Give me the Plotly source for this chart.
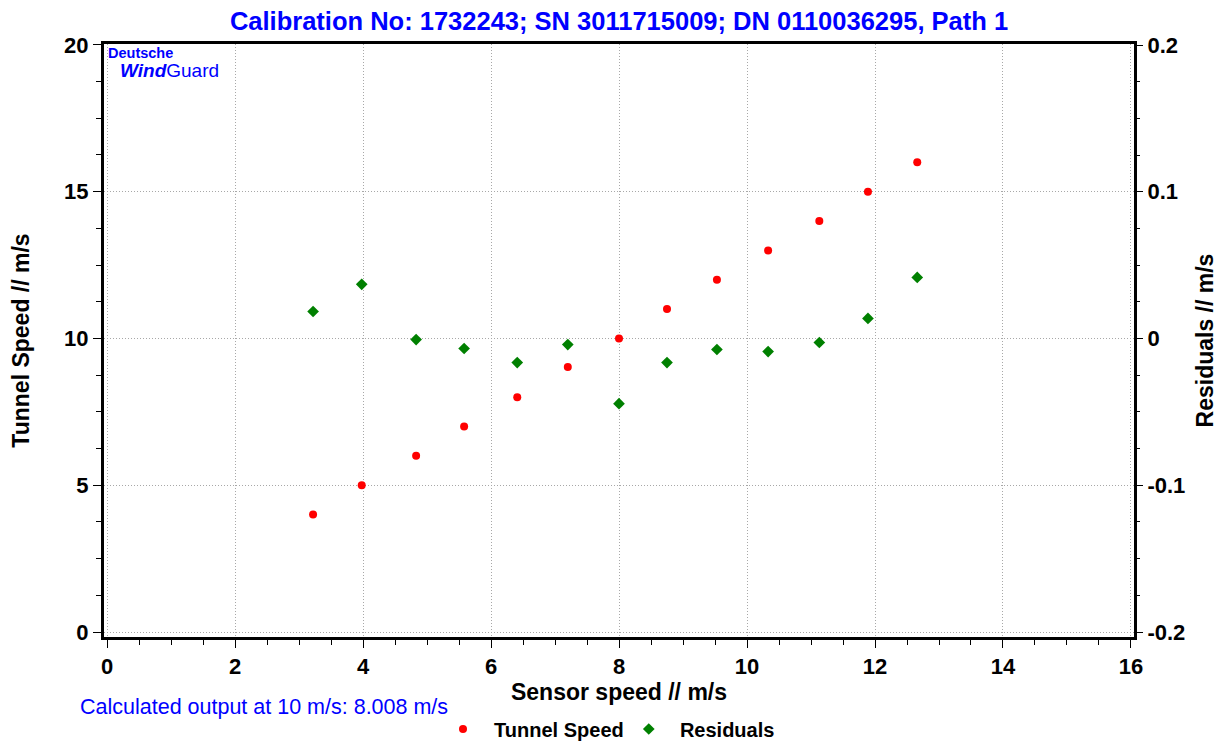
import plotly.graph_objects as go

sensor_speed = [3.22, 3.98, 4.83, 5.58, 6.41, 7.20, 8.00, 8.75, 9.53, 10.33, 11.13, 11.89, 12.66]
tunnel_speed = [4.0, 5.0, 6.0, 7.0, 8.0, 9.03, 10.0, 11.0, 12.0, 13.0, 14.0, 15.0, 16.0]
residuals = [0.0184, 0.0369, -0.0007, -0.0068, -0.0164, -0.0041, -0.0444, -0.0164, -0.0075, -0.0089, -0.0027, 0.0137, 0.0416]

res_tickvals = [-0.2, -0.1, 0.0, 0.1, 0.2]
res_ticktext = ["-0.2", "-0.1", "0", "0.1", "0.2"]

title_text = "Calibration No: 1732243; SN 3011715009; DN 0110036295, Path 1"
note_text = "Calculated output at 10 m/s: 8.008 m/s"

# page body has an 8px margin, so the figure is drawn 8px smaller and offset
W, H = 1217, 734
NB = "\u00a0\u00a0"

fig = go.Figure()
fig.add_trace(go.Scatter(x=sensor_speed, y=tunnel_speed, mode="markers", name=NB + "Tunnel Speed",
                         marker=dict(color="#ff0000", size=8, symbol="circle")))
fig.add_trace(go.Scatter(x=sensor_speed, y=residuals, mode="markers", name=NB + "Residuals", yaxis="y2",
                         marker=dict(color="#008000", size=9, symbol="diamond")))

FONT = "Liberation Sans, Arial"
tickfont = dict(family=FONT, size=22, color="black", weight="bold")
titlefont = dict(family=FONT, size=23, color="black", weight="bold")
grid = dict(showgrid=True, gridcolor="#a8a8a8", griddash="1px,2px", gridwidth=1)

fig.update_layout(
    width=W, height=H,
    paper_bgcolor="white", plot_bgcolor="white",
    margin=dict(l=96, r=91, t=36, b=105, autoexpand=False),
    title=dict(text=title_text, x=(96 + 1030 / 2) / W, xanchor="center", y=1 - 13 / H, yanchor="middle",
               font=dict(family=FONT, size=25.5, color="#0000ff", weight="bold")),
    xaxis=dict(range=[-0.047, 16.047], dtick=2, tick0=0, **grid, zeroline=False, showline=True,
               linecolor="black", linewidth=3, mirror=True, ticks="outside", ticklen=8,
               tickcolor="black", tickfont=tickfont, automargin=False,
               title=dict(text="Sensor speed // m/s", font=titlefont, standoff=0),
               minor=dict(dtick=0.5, ticks="outside", ticklen=5, tickcolor="black", showgrid=False)),
    yaxis=dict(range=[-0.17, 20.03], dtick=5, tick0=0, **grid, zeroline=False, showline=True,
               linecolor="black", linewidth=3, mirror=True, ticks="outside", ticklen=8,
               tickcolor="black", tickfont=tickfont, automargin=False,
               title=dict(text="Tunnel Speed // m/s", font=titlefont, standoff=30),
               minor=dict(dtick=1.25, ticks="outside", ticklen=5, tickcolor="black", showgrid=False)),
    yaxis2=dict(range=[-0.2034, 0.2007], tickvals=res_tickvals, ticktext=res_ticktext,
                overlaying="y", side="right", automargin=False,
                showgrid=False, zeroline=False, showline=False, ticks="outside", ticklen=8,
                tickcolor="black", tickfont=tickfont,
                title=dict(text="Residuals // m/s", font=titlefont, standoff=12),
                minor=dict(dtick=0.025, tick0=0, ticks="outside", ticklen=5, tickcolor="black", showgrid=False)),
    legend=dict(orientation="h", x=(435 - 96) / 1030, xanchor="left", y=(637 - 729) / 593, yanchor="middle",
                font=dict(family=FONT, size=20, color="black", weight="bold"),
                itemwidth=30, tracegroupgap=0, bgcolor="rgba(0,0,0,0)"),
    showlegend=True,
)

fig.add_annotation(text=note_text, xref="paper", yref="paper", x=(78 - 104) / 1030, y=(637 - 707) / 593,
                   xanchor="left", yanchor="middle", showarrow=False,
                   font=dict(family=FONT, size=21.5, color="#0000ff"))
fig.add_annotation(text="<b>Deutsche</b>", xref="paper", yref="paper", x=(106 - 104) / 1030, y=(637 - 53) / 593,
                   xanchor="left", yanchor="middle", showarrow=False,
                   font=dict(family=FONT, size=14.5, color="#0000ff"))
fig.add_annotation(text="<b><i>Wind</i></b>Guard", xref="paper", yref="paper", x=(118 - 104) / 1030, y=(637 - 71) / 593,
                   xanchor="left", yanchor="middle", showarrow=False,
                   font=dict(family=FONT, size=19, color="#0000ff"))

fig.write_html("out.html")
